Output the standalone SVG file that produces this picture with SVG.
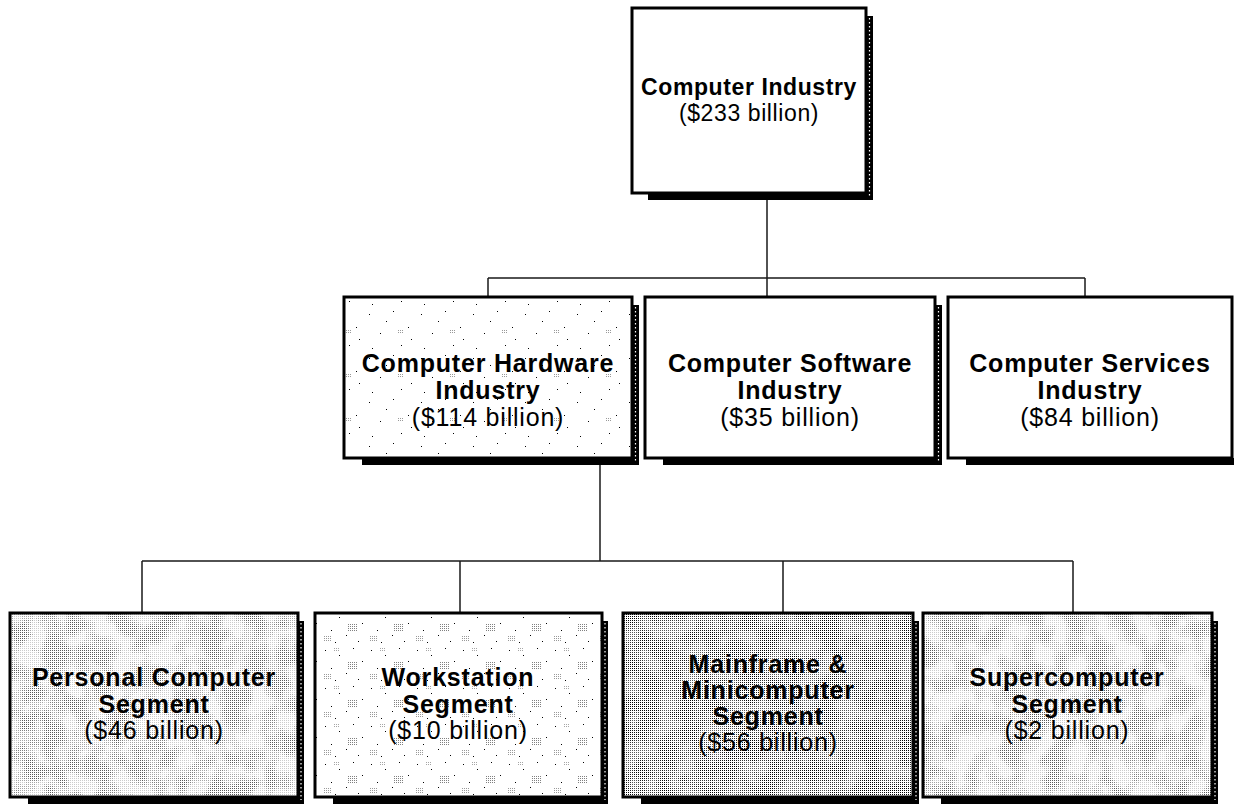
<svg xmlns="http://www.w3.org/2000/svg" width="1234" height="804" viewBox="0 0 1234 804">
  <defs>
    <style>
      .box { stroke: #000; stroke-width: 3; }
      .edge { fill: none; stroke: #000; stroke-width: 3; }
      .shadow { fill: #000; }
      .shdots { stroke: #fff; stroke-width: 1.2; stroke-dasharray: 1.5 2.5; fill: none; }
      .conn { fill: none; stroke: #1a1a1a; stroke-width: 1.5; }
      .t { font-family: "Liberation Sans", Arial, Helvetica, sans-serif; font-size: 25px; text-anchor: middle; fill: #000; letter-spacing: 0.8px; }
      .top { font-size: 23px; letter-spacing: 0.6px; }
      .b { font-weight: bold; }
    </style>
    <!-- fine halftone: one dot per 2x2 cell -->
    <pattern id="chk" width="2" height="2" patternUnits="userSpaceOnUse">
      <rect width="2" height="2" fill="#fff"/>
      <rect width="1" height="1" fill="#000"/>
    </pattern>
    <!-- very sparse speckle -->
    <pattern id="sparse" width="52" height="44" patternUnits="userSpaceOnUse">
      <rect width="52" height="44" fill="#fff"/>
      <rect x="5" y="6" width="1" height="1" fill="#000"/>
      <rect x="29" y="3" width="1" height="1" fill="#000"/>
      <rect x="44" y="19" width="1" height="1" fill="#000"/>
      <rect x="16" y="25" width="1" height="1" fill="#000"/>
      <rect x="37" y="37" width="1" height="1" fill="#000"/>
      <rect x="8" y="40" width="1" height="1" fill="#000"/>
      <rect x="22" y="13" width="1" height="1" fill="#000"/>
      <rect x="47" y="31" width="1" height="1" fill="#000"/>
      <rect x="33" y="22" width="6" height="4" fill="url(#chk)" opacity="0.4"/>
    </pattern>
    <!-- light speckle with occasional halftone clusters -->
    <pattern id="speckle" width="46" height="38" patternUnits="userSpaceOnUse">
      <rect width="46" height="38" fill="#fff"/>
      <rect x="3" y="4" width="1" height="1" fill="#000"/>
      <rect x="17" y="9" width="1" height="1" fill="#000"/>
      <rect x="31" y="2" width="1" height="1" fill="#000"/>
      <rect x="40" y="15" width="1" height="1" fill="#000"/>
      <rect x="9" y="22" width="1" height="1" fill="#000"/>
      <rect x="24" y="27" width="1" height="1" fill="#000"/>
      <rect x="36" y="33" width="1" height="1" fill="#000"/>
      <rect x="13" y="34" width="1" height="1" fill="#000"/>
      <rect x="26" y="16" width="9" height="7" fill="url(#chk)" opacity="0.5"/>
      <rect x="2" y="27" width="7" height="7" fill="url(#chk)" opacity="0.4"/>
      <rect x="12" y="2" width="5" height="4" fill="url(#chk)" opacity="0.35"/>
    </pattern>
    <!-- white veils with stepped, uneven opacity: they lighten the halftone in patches -->
    <filter id="blotchMed" x="0" y="0" width="100%" height="100%" color-interpolation-filters="sRGB">
      <feTurbulence type="fractalNoise" baseFrequency="0.045" numOctaves="2" seed="4"/>
      <feColorMatrix type="matrix" values="3 0 0 0 -1  0 0 0 0 0  0 0 0 0 0  0 0 0 0 1"/>
      <feComponentTransfer><feFuncR type="discrete" tableValues="0.35 0.5 0.65 0.8"/></feComponentTransfer>
      <feColorMatrix type="matrix" values="0 0 0 0 1  0 0 0 0 1  0 0 0 0 1  1 0 0 0 0"/>
    </filter>
    <filter id="blotchDense" x="0" y="0" width="100%" height="100%" color-interpolation-filters="sRGB">
      <feTurbulence type="fractalNoise" baseFrequency="0.05" numOctaves="2" seed="2"/>
      <feColorMatrix type="matrix" values="3 0 0 0 -1  0 0 0 0 0  0 0 0 0 0  0 0 0 0 1"/>
      <feComponentTransfer><feFuncR type="discrete" tableValues="0 0.08 0.2 0.35"/></feComponentTransfer>
      <feColorMatrix type="matrix" values="0 0 0 0 1  0 0 0 0 1  0 0 0 0 1  1 0 0 0 0"/>
    </filter>
  </defs>

  <rect width="1234" height="804" fill="#fff"/>

  <!-- connectors -->
  <g id="connectors">
    <path class="conn" d="M767 200 V278 M488 278 H1085 M488 278 V297 M767 278 V297 M1085 278 V297"/>
    <path class="conn" d="M600 465 V561 M142 561 H1073 M142 561 V613 M460 561 V613 M783 561 V613 M1073 561 V613"/>
  </g>

  <!-- top level -->
  <g id="computer-industry">
    <rect class="shadow" x="648" y="193" width="225" height="7"/>
    <rect class="shadow" x="866" y="16" width="7" height="184"/>
    <line class="shdots" x1="869.5" y1="18" x2="869.5" y2="196"/>
    <rect class="box" x="632" y="8" width="234" height="185" fill="#fff"/>
    <text class="t top b" x="749" y="95">Computer Industry</text>
    <text class="t top" x="749" y="121">($233 billion)</text>
  </g>

  <!-- industries -->
  <g id="hardware-industry">
    <rect class="shadow" x="362" y="458" width="277" height="7"/>
    <rect class="shadow" x="632" y="305" width="7" height="160"/>
    <line class="shdots" x1="635.5" y1="307" x2="635.5" y2="462"/>
    <rect class="box" x="344" y="297" width="288" height="161" fill="url(#sparse)"/>
    <text class="t b" x="488" y="372">Computer Hardware</text>
    <text class="t b" x="488" y="399">Industry</text>
    <text class="t" x="488" y="426">($114 billion)</text>
  </g>

  <g id="software-industry">
    <rect class="shadow" x="663" y="458" width="279" height="7"/>
    <rect class="shadow" x="935" y="305" width="7" height="160"/>
    <line class="shdots" x1="938.5" y1="307" x2="938.5" y2="462"/>
    <rect class="box" x="645" y="297" width="290" height="161" fill="#fff"/>
    <text class="t b" x="790" y="372">Computer Software</text>
    <text class="t b" x="790" y="399">Industry</text>
    <text class="t" x="790" y="426">($35 billion)</text>
  </g>

  <g id="services-industry">
    <rect class="shadow" x="966" y="458" width="268" height="7"/>
    <rect class="box" x="948" y="297" width="284" height="161" fill="#fff"/>
    <text class="t b" x="1090" y="372">Computer Services</text>
    <text class="t b" x="1090" y="399">Industry</text>
    <text class="t" x="1090" y="426">($84 billion)</text>
  </g>

  <!-- hardware segments -->
  <g id="pc-segment">
    <rect class="shadow" x="28" y="797" width="275" height="7"/>
    <rect class="shadow" x="298" y="621" width="6" height="183"/>
    <line class="shdots" x1="301" y1="623" x2="301" y2="800"/>
    <rect x="10" y="613" width="288" height="184" fill="url(#chk)"/>
    <rect x="10" y="613" width="288" height="184" fill="#fff" filter="url(#blotchMed)"/>
    <rect class="edge" x="10" y="613" width="288" height="184"/>
    <text class="t b" x="154" y="686">Personal Computer</text>
    <text class="t b" x="154" y="713">Segment</text>
    <text class="t" x="154" y="739">($46 billion)</text>
  </g>

  <g id="workstation-segment">
    <rect class="shadow" x="333" y="797" width="275" height="7"/>
    <rect class="shadow" x="602" y="621" width="6" height="183"/>
    <line class="shdots" x1="605" y1="623" x2="605" y2="800"/>
    <rect class="box" x="315" y="613" width="287" height="184" fill="url(#speckle)"/>
    <text class="t b" x="458" y="686">Workstation</text>
    <text class="t b" x="458" y="713">Segment</text>
    <text class="t" x="458" y="739">($10 billion)</text>
  </g>

  <g id="mainframe-segment">
    <rect class="shadow" x="641" y="797" width="278" height="7"/>
    <rect class="shadow" x="913" y="621" width="6" height="183"/>
    <line class="shdots" x1="916" y1="623" x2="916" y2="800"/>
    <rect x="623" y="613" width="290" height="184" fill="url(#chk)"/>
    <rect x="623" y="613" width="290" height="184" fill="#fff" filter="url(#blotchDense)"/>
    <rect class="edge" x="623" y="613" width="290" height="184"/>
    <text class="t b" x="768" y="673">Mainframe &amp;</text>
    <text class="t b" x="768" y="699">Minicomputer</text>
    <text class="t b" x="768" y="725">Segment</text>
    <text class="t" x="768" y="751">($56 billion)</text>
  </g>

  <g id="supercomputer-segment">
    <rect class="shadow" x="941" y="797" width="277" height="7"/>
    <rect class="shadow" x="1212" y="621" width="6" height="183"/>
    <line class="shdots" x1="1215" y1="623" x2="1215" y2="800"/>
    <rect x="923" y="613" width="289" height="184" fill="url(#chk)"/>
    <rect x="923" y="613" width="289" height="184" fill="#fff" filter="url(#blotchMed)"/>
    <rect class="edge" x="923" y="613" width="289" height="184"/>
    <text class="t b" x="1067" y="686">Supercomputer</text>
    <text class="t b" x="1067" y="713">Segment</text>
    <text class="t" x="1067" y="739">($2 billion)</text>
  </g>
</svg>
